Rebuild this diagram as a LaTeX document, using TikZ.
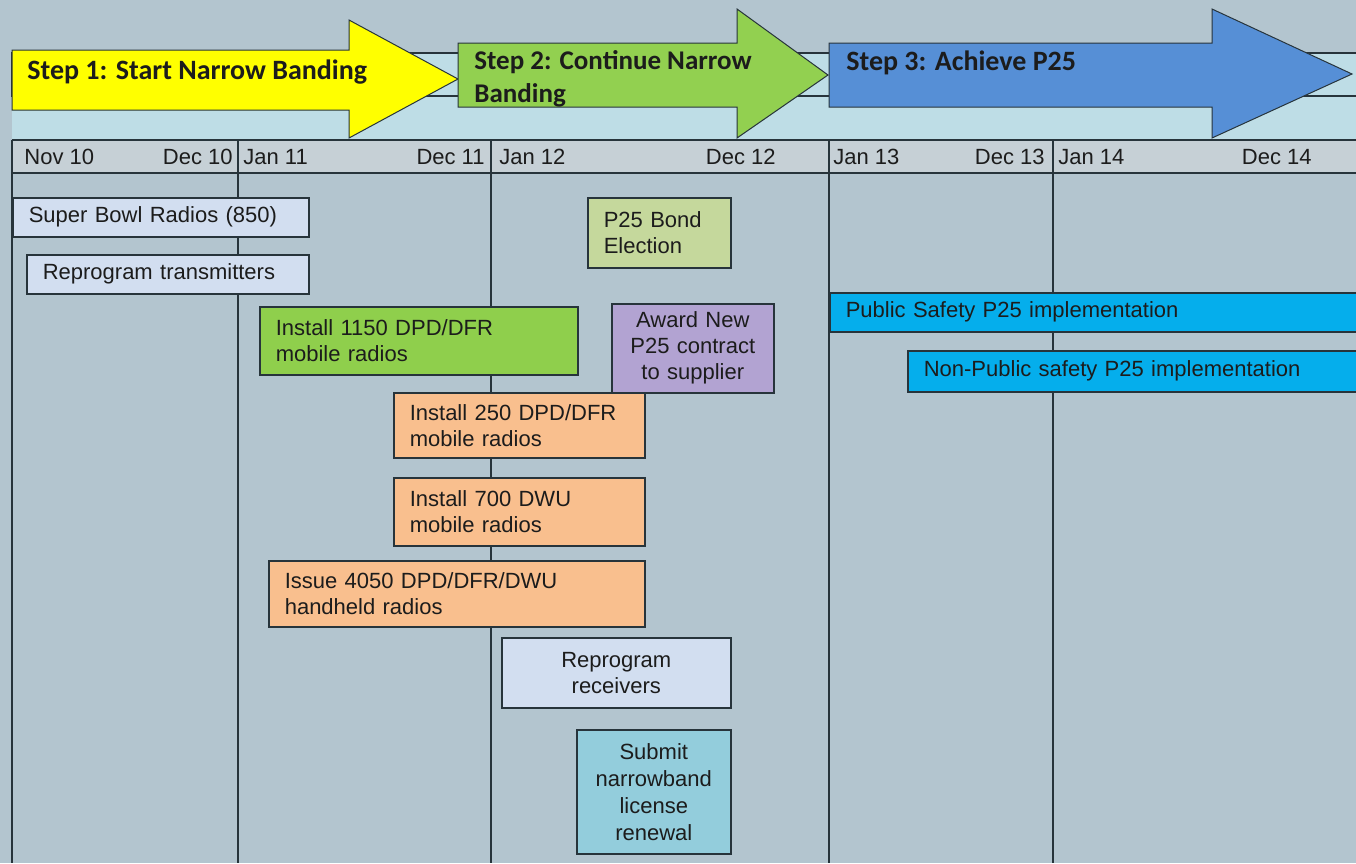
\documentclass[tikz,border=0pt]{standalone}
\usepackage{fontspec}
\setmainfont{Liberation Sans}
\newfontfamily\stepfont{Carlito}
\definecolor{bgcol}{HTML}{B3C5CF}
\definecolor{bandcol}{HTML}{BEDDE6}
\definecolor{headcol}{HTML}{C6D0D6}
\definecolor{edgecol}{HTML}{27343B}
\definecolor{txtcol}{HTML}{1C1C1C}
\definecolor{paleblue}{HTML}{D2DEF0}
\definecolor{leafgreen}{HTML}{8FCF4C}
\definecolor{olivecol}{HTML}{C5D89C}
\definecolor{lilac}{HTML}{B2A3D2}
\definecolor{peach}{HTML}{F9BF8E}
\definecolor{tealcol}{HTML}{93CDDC}
\definecolor{skycol}{HTML}{05AEEC}
\definecolor{stepyellow}{HTML}{FFFF00}
\definecolor{stepgreen}{HTML}{92D050}
\definecolor{stepblue}{HTML}{568FD6}

\begin{document}
\begin{tikzpicture}[x = 0.5pt, y = -0.5pt,
        every node/.style={font=\fontsize{11}{13}\selectfont, text=txtcol},
        task/.style={draw=edgecol, line width=0.8pt, anchor=north west, inner xsep=8pt, inner ysep=0pt, align=left},
        ctask/.style={task, inner xsep=2pt, align=center},
        steptext/.style={font=\stepfont\bfseries\fontsize{14}{16.5}\selectfont, text=txtcol, inner sep=0pt, align=left},
        arrowpath/.style={draw=edgecol, line width=0.5pt},
        grid/.style={draw=edgecol, line width=0.8pt}
]
    \useasboundingbox (0,0) rectangle (1356,863);
    \fill[bgcol] (0,0) rectangle (1356,863);

    % band behind the steps
    \fill[bandcol] (12,53) rectangle (1356,140);
    \draw[grid] (12,53) rectangle (1360,96);

    % step arrows
    \draw[arrowpath, fill=stepyellow] (12,50) -- (349,50) -- (349,20) -- (458,79) -- (349,138) -- (349,110) -- (12,110) -- cycle;
    \draw[arrowpath, fill=stepgreen] (458,43) -- (737,43) -- (737,9) -- (828,75) -- (737,138) -- (737,107) -- (458,107) -- cycle;
    \draw[arrowpath, fill=stepblue] (829,43) -- (1212,43) -- (1212,9) -- (1352,74) -- (1212,138) -- (1212,107) -- (829,107) -- cycle;

    \node[steptext, anchor=west] (step1) at (27,72) {Step 1: Start Narrow Banding};
    \node[steptext, anchor=north west, font=\stepfont\bfseries\fontsize{13.5}{16.5}\selectfont] (step2) at (474,50) {Step 2: Continue Narrow\\Banding};
    \node[steptext, anchor=west] (step3) at (846,63) {Step 3: Achieve P25};

    % header row
    \fill[headcol] (12,140) rectangle (1356,173);
    \draw[grid] (12,140) -- (1356,140);
    \draw[edgecol, line width=1.3pt] (12,173) -- (1356,173);
    \foreach \gx in {12,238,491,829,1053}
        \draw[grid] (\gx,140) -- (\gx,863);

    \foreach \gx/\glab/\gname in {24/Nov 10/nov10, 243/Jan 11/jan11, 499/Jan 12/jan12, 833/Jan 13/jan13, 1058/Jan 14/jan14}
        \node[anchor=west, inner sep=0pt] (\gname) at (\gx,157) {\glab};
    \foreach \gx/\glab/\gname in {233/Dec 10/dec10, 485/Dec 11/dec11, 776/Dec 12/dec12, 1045/Dec 13/dec13, 1312/Dec 14/dec14}
        \node[anchor=east, inner sep=0pt] (\gname) at (\gx,157) {\glab};

    % tasks
    \node[task, fill=paleblue, text width=132pt, minimum height=19.5pt] (superbowl) at (12,197) {Super Bowl Radios (850)};
    \node[task, fill=paleblue, text width=125pt, minimum height=19.5pt] (transmit) at (26,254) {Reprogram transmitters};
    \node[task, fill=leafgreen, text width=143pt, minimum height=34pt] (dpd1150) at (259,306) {Install 1150 DPD/DFR\\mobile radios};
    \node[task, fill=olivecol, text width=55.5pt, minimum height=35pt] (bond) at (587,197) {P25 Bond\\Election};
    \node[ctask, fill=lilac, text width=77pt, minimum height=44.5pt] (award) at (611,303) {Award New\\P25 contract\\to supplier};
    \node[task, fill=peach, text width=109.5pt, minimum height=32.5pt] (dpd250) at (393,392) {Install 250 DPD/DFR\\mobile radios};
    \node[task, fill=peach, text width=109.5pt, minimum height=34pt] (dwu700) at (393,477) {Install 700 DWU\\mobile radios};
    \node[task, fill=peach, text width=172pt, minimum height=33pt] (hand4050) at (268,560) {Issue 4050 DPD/DFR/DWU\\handheld radios};
    \node[ctask, fill=paleblue, text width=110.5pt, minimum height=35pt] (receive) at (501,637) {Reprogram\\receivers};
    \node[ctask, fill=tealcol, text width=73pt, minimum height=62pt, font=\fontsize{11}{13.5}\selectfont] (license) at (576,729) {Submit\\narrowband\\license\\renewal};
    \node[task, fill=skycol, text width=249.5pt, minimum height=19.5pt] (safety) at (829,292) {Public Safety P25 implementation};
    \node[task, fill=skycol, text width=210.5pt, minimum height=20.5pt] (nonsafety) at (907,350) {Non-Public safety P25 implementation};

\end{tikzpicture}
\end{document}
